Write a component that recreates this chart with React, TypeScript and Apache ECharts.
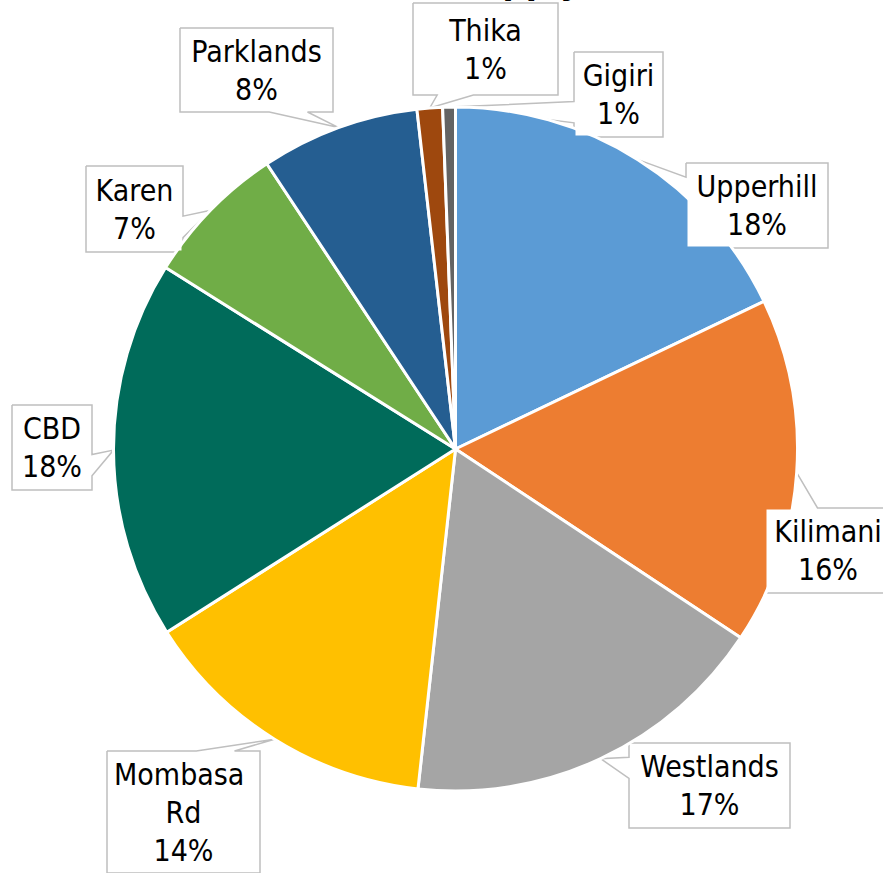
import React, { useEffect, useRef } from 'react';
import * as echarts from 'echarts';

// ---- data ----
const categories = ['Upperhill', 'Kilimani', 'Westlands', 'Mombasa Rd', 'CBD', 'Karen', 'Parklands', 'Thika', 'Gigiri'];
const shares = [17.9, 16.4, 17.45, 14.25, 17.9, 6.8, 7.5, 1.2, 0.6];
const sliceColors = ['#5B9BD5', '#ED7D31', '#A5A5A5', '#FFC000', '#006B5A', '#70AD47', '#255E91', '#9E480E', '#636363'];
const titleText = 'Office Supply';

// ---- layout of the callout boxes: [centerX, centerY, width, height] ----
const calloutBoxes: number[][] = [
  [757, 205.5, 142, 85],
  [828, 550.5, 126, 85],
  [709.5, 785.5, 161, 85],
  [183.5, 812, 153, 122],
  [52, 447.5, 80, 85],
  [134.5, 209, 97, 86],
  [256.5, 70, 153, 84],
  [485.5, 49, 145, 92],
  [618.5, 94.5, 89, 85],
];

const FONT = "'DejaVu Sans Condensed', 'Liberation Sans', sans-serif";
const LINE_H = 38;

function calloutOutline(b: number[], tip: number[] | null) {
  const [cx, cy, w, h] = b;
  const L = cx - w / 2, R = cx + w / 2, T = cy - h / 2, B = cy + h / 2;
  if (!tip) return [[L, T], [R, T], [R, B], [L, B], [L, T]];
  const [tx, ty] = tip;
  const dx = tx - cx, dy = ty - cy;
  const dz = Math.abs(dy) - Math.abs((dx * h) / w);
  const x1 = L + (w * (dx > 0 ? 7 : 2)) / 12, x2 = L + (w * (dx > 0 ? 10 : 5)) / 12;
  const y1 = T + (h * (dy > 0 ? 7 : 2)) / 12, y2 = T + (h * (dy > 0 ? 10 : 5)) / 12;
  const pts: number[][] = [[L, T]];
  if (dz > 0 && dy < 0) pts.push([x1, T], [tx, ty], [x2, T]);
  pts.push([R, T]);
  if (dz <= 0 && dx > 0) pts.push([R, y1], [tx, ty], [R, y2]);
  pts.push([R, B]);
  if (dz > 0 && dy > 0) pts.push([x2, B], [tx, ty], [x1, B]);
  pts.push([L, B]);
  if (dz <= 0 && dx < 0) pts.push([L, y2], [tx, ty], [L, y1]);
  pts.push([L, T]);
  return pts;
}

export default function App() {
  const ref = useRef<HTMLDivElement>(null);
  useEffect(() => {
    if (!ref.current) return;
    const chart = echarts.init(ref.current, undefined, { renderer: 'svg' });
    const data = categories.map((name, i) => {
      const b = calloutBoxes[i];
      const lines = Math.round((b[3] - 8) / LINE_H);
      const padV = (b[3] - 3 - lines * LINE_H) / 2;
      return {
        name,
        value: shares[i],
        itemStyle: { color: sliceColors[i] },
        label: { width: b[2] - 3, padding: [padV, 0, padV, 0] },
      };
    });
    chart.setOption({
      animation: false,
      backgroundColor: '#fff',
      graphic: [
        {
          type: 'text',
          x: 340,
          y: -19,
          style: {
            text: titleText,
            fontSize: 36,
            fontWeight: 'bold',
            fontFamily: FONT,
            fill: '#000',
            verticalAlign: 'middle',
          },
        },
      ],
      series: [
        {
          type: 'pie',
          center: [455.5, 449],
          radius: 342,
          startAngle: 90,
          clockwise: true,
          avoidLabelOverlap: false,
          data,
          itemStyle: { borderColor: '#fff', borderWidth: 3 },
          label: {
            show: true,
            position: 'outside',
            formatter: (p: any) => `${p.name}\n${Math.round(p.percent)}%`,
            color: '#000',
            fontSize: 30,
            lineHeight: LINE_H,
            fontFamily: FONT,
            backgroundColor: '#fff',
            overflow: 'break',
            align: 'center',
          },
          labelLine: {
            show: true,
            length: 10,
            length2: 10,
            lineStyle: { color: '#BFBFBF', width: 1.5 },
          },
          labelLayout: (params: any) => {
            const b = calloutBoxes[params.dataIndex];
            const tip = params.labelLinePoints ? params.labelLinePoints[0] : null;
            return {
              x: b[0],
              y: b[1],
              align: 'center',
              verticalAlign: 'middle',
              width: b[2] - 3,
              labelLinePoints: calloutOutline(b, tip),
            };
          },
          emphasis: { disabled: true },
        },
      ],
    });
    return () => chart.dispose();
  }, []);
  return (
    <div
      ref={ref}
      style={{ position: 'fixed', left: 0, top: 0, width: 883, height: 873 }}
    />
  );
}
